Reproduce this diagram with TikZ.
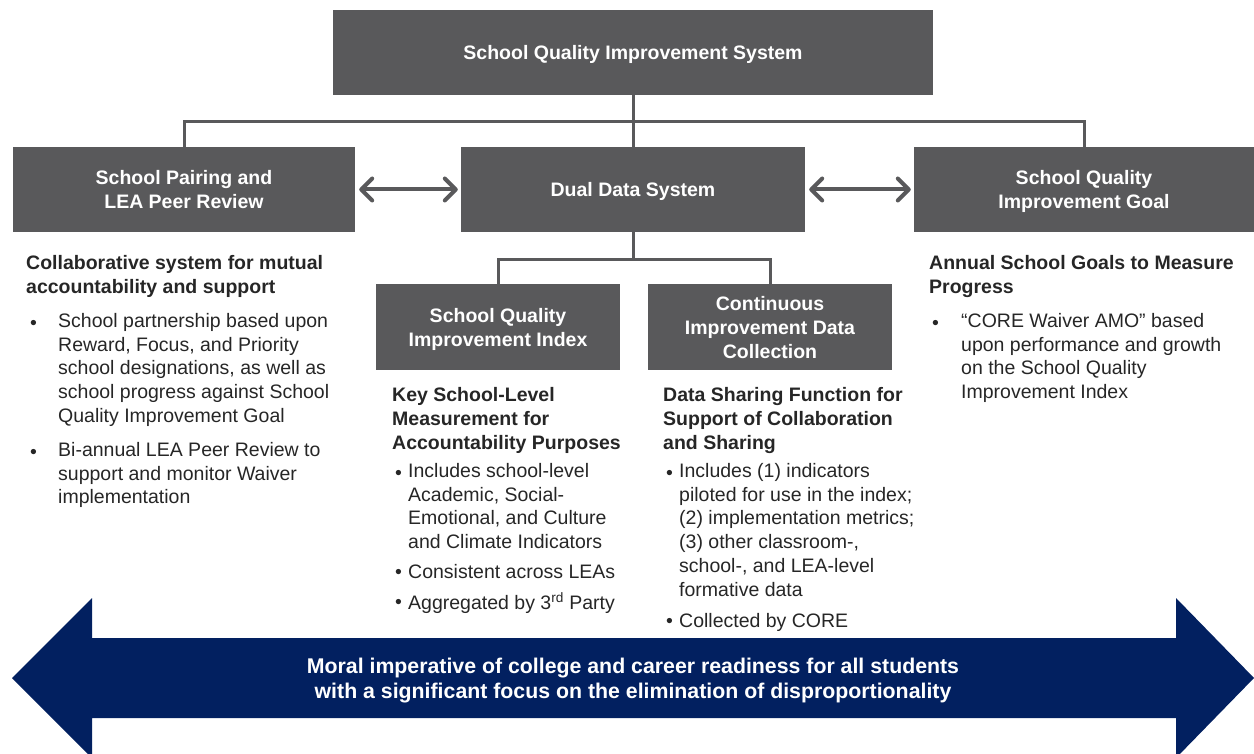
\documentclass[tikz,border=0pt]{standalone}
\usepackage{fontspec}
\setmainfont{Liberation Sans}
\usetikzlibrary{arrows.meta}
\definecolor{boxgray}{RGB}{89,89,91}
\definecolor{navy}{RGB}{2,32,96}
\definecolor{ink}{RGB}{38,38,38}
\tikzset{
 boxnode/.style={fill=boxgray,text=white,font=\fontsize{19.5}{24}\selectfont\bfseries,align=center,inner sep=0pt,text depth=0pt},
 link/.style={draw=boxgray,line width=3pt},
 twoway/.style={draw=boxgray,line width=4pt,{Straight Barb[length=11pt,width=22pt,round]}-{Straight Barb[length=11pt,width=22pt,round]}},
 headtxt/.style={text=ink,font=\fontsize{19.5}{24}\selectfont\bfseries,align=left,anchor=north west,inner sep=0pt,execute at begin node=\strut},
 bodytxt/.style={text=ink,font=\fontsize{19.5}{23.8}\selectfont,align=left,anchor=north west,inner sep=0pt,execute at begin node=\strut}
}
\begin{document}
\begin{tikzpicture}[x=1pt,y=-1pt]
\useasboundingbox (0,0) rectangle (1254,754);
\node[boxnode,minimum width=600pt,minimum height=85pt] (sys) at (633,52.5) {School Quality Improvement System};
\node[boxnode,minimum width=342pt,minimum height=85pt] (pair) at (184,189.5) {School Pairing and\\LEA Peer Review};
\node[boxnode,minimum width=344pt,minimum height=85pt] (dual) at (633,189.5) {Dual Data System};
\node[boxnode,minimum width=340pt,minimum height=85pt] (goal) at (1084,189.5) {School Quality\\Improvement Goal};
\node[boxnode,minimum width=244pt,minimum height=86pt] (idx) at (498,327) {School Quality\\Improvement Index};
\node[boxnode,minimum width=244pt,minimum height=86pt] (cidc) at (770,327) {Continuous\\Improvement Data\\Collection};
\coordinate (j1) at (633,122);
\coordinate (j2) at (633,260);
\draw[link] (sys.south) -- (dual.north);
\draw[link] (pair.north) |- (j1) -| (goal.north);
\draw[link] (dual.south) -- (j2);
\draw[link] (idx.north) |- (j2) -| (cidc.north);
\draw[twoway] ([xshift=4pt]pair.east) -- ([xshift=-3pt]dual.west);
\draw[twoway] ([xshift=4pt]dual.east) -- ([xshift=-3pt]goal.west);
\node[headtxt] (phead) at (26,255) {Collaborative system for mutual\\accountability and support};
\node[bodytxt] (p1dot) at (30,313) {•};
\node[bodytxt] (p1) at (58,313) {School partnership based upon\\Reward, Focus, and Priority\\school designations, as well as\\school progress against School\\Quality Improvement Goal};
\node[bodytxt] (p2dot) at (30,442) {•};
\node[bodytxt] (p2) at (58,442) {Bi-annual LEA Peer Review to\\support and monitor Waiver\\implementation};
\node[headtxt] (ihead) at (392,387) {Key School-Level\\Measurement for\\Accountability Purposes};
\node[bodytxt] (i1dot) at (395,463) {•};
\node[bodytxt] (i1) at (408,463) {Includes school-level\\Academic, Social-\\Emotional, and Culture\\and Climate Indicators};
\node[bodytxt] (i2dot) at (395,562) {•};
\node[bodytxt] (i2) at (408,562) {Consistent across LEAs};
\node[bodytxt] (i3dot) at (395,592) {•};
\node[bodytxt] (i3) at (408,592) {Aggregated by 3\textsuperscript{rd} Party};
\node[headtxt] (chead) at (663,387) {Data Sharing Function for\\Support of Collaboration\\and Sharing};
\node[bodytxt] (c1dot) at (666,463) {•};
\node[bodytxt] (c1) at (679,463) {Includes (1) indicators\\piloted for use in the index;\\(2) implementation metrics;\\(3) other classroom-,\\school-, and LEA-level\\formative data};
\node[bodytxt] (c2dot) at (666,611) {•};
\node[bodytxt] (c2) at (679,611) {Collected by CORE};
\node[headtxt] (ghead) at (929,255) {Annual School Goals to Measure\\Progress};
\node[bodytxt] (g1dot) at (932,313) {•};
\node[bodytxt] (g1) at (961,313) {“CORE Waiver AMO” based\\upon performance and growth\\on the School Quality\\Improvement Index};
\fill[navy] (12,678) -- (92,598) -- (92,638) -- (1176,638) -- (1176,598) -- (1254,678) -- (1176,758) -- (1176,718) -- (92,718) -- (92,758) -- cycle;
\node[text=white,font=\fontsize{21.3}{25}\selectfont\bfseries,align=center,text depth=0pt] (moral) at (633,678) {Moral imperative of college and career readiness for all students\\with a significant focus on the elimination of disproportionality};
\end{tikzpicture}
\end{document}
